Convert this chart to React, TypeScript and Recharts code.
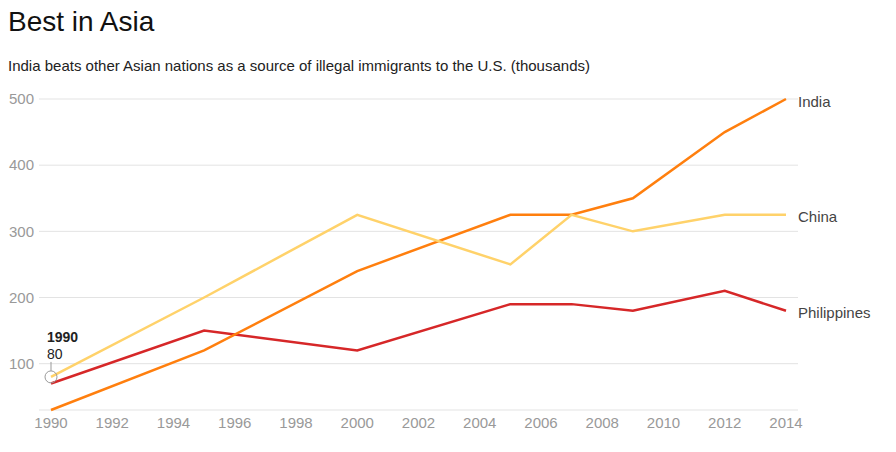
import { LineChart, Line, XAxis, YAxis, CartesianGrid } from 'recharts';

const years = [1990, 1995, 2000, 2005, 2007, 2009, 2012, 2014];
const india = [30, 120, 240, 325, 325, 350, 450, 500];
const china = [80, 200, 325, 250, 325, 300, 325, 325];
const philippines = [70, 150, 120, 190, 190, 180, 210, 180];
const xTicks = [1990, 1992, 1994, 1996, 1998, 2000, 2002, 2004, 2006, 2008, 2010, 2012, 2014];
const yTicks = [100, 200, 300, 400, 500];

const data = years.map((year, i) => ({
  year,
  India: india[i],
  China: china[i],
  Philippines: philippines[i],
}));

const FONT = '"Liberation Sans", Arial, sans-serif';

// label at the end of each line
const endLabel = (name: string) => (props: any) => {
  const { x, y, index } = props;
  if (index !== years.length - 1) return null;
  return (
    <text x={x + 12} y={y + 2} fill="#444" fontSize={15} fontFamily={FONT} dominantBaseline="central">
      {name}
    </text>
  );
};

// hover marker on the first China point
const firstDot = (props: any) => {
  const { cx, cy, index } = props;
  if (index !== 0) return <g key={index} />;
  return (
    <g key={index}>
      <line x1={cx} x2={cx} y1={cy - 6} y2={cy - 15} stroke="#999" strokeWidth={1} />
      <circle cx={cx} cy={cy} r={6} fill="none" stroke="#999" strokeWidth={1} />
      <text x={cx - 4} y={cy - 35} fontSize={14} fontWeight="bold" fill="#222" fontFamily={FONT}>
        {years[0]}
      </text>
      <text x={cx - 4} y={cy - 18} fontSize={14} fill="#222" fontFamily={FONT}>
        {china[0]}
      </text>
    </g>
  );
};

export default function App() {
  return (
    <div style={{ position: 'fixed', top: 0, left: 0, width: 896, height: 452, background: '#fff', fontFamily: FONT }}>
      <div style={{ position: 'absolute', left: 8, top: 6, fontSize: 28, color: '#111' }}>Best in Asia</div>
      <div style={{ position: 'absolute', left: 8, top: 57, fontSize: 15, color: '#222' }}>
        India beats other Asian nations as a source of illegal immigrants to the U.S. (thousands)
      </div>
      <div style={{ position: 'absolute', left: 0, top: 0 }}>
        <LineChart width={896} height={452} data={data} margin={{ top: 99, right: 98, bottom: 12, left: 0 }}>
          <CartesianGrid vertical={false} stroke="#e3e3e3" />
          <XAxis
            dataKey="year"
            type="number"
            domain={[1990, 2014]}
            ticks={xTicks}
            padding={{ left: 12, right: 12 }}
            axisLine={false}
            tickLine={false}
            tickSize={0}
            tickMargin={7}
            height={30}
            tick={{ fill: '#999', fontSize: 15, fontFamily: FONT }}
          />
          <YAxis
            domain={[30, 500]}
            ticks={yTicks}
            axisLine={false}
            tickLine={false}
            tickSize={0}
            tickMargin={5}
            width={39}
            tick={{ fill: '#999', fontSize: 15, fontFamily: FONT }}
          />
          <Line dataKey="Philippines" stroke="#d62728" strokeWidth={2.5} dot={false} isAnimationActive={false} label={endLabel('Philippines')} />
          <Line dataKey="India" stroke="#ff7f0e" strokeWidth={2.5} dot={false} isAnimationActive={false} label={endLabel('India')} />
          <Line dataKey="China" stroke="#ffd26a" strokeWidth={2.5} dot={firstDot} isAnimationActive={false} label={endLabel('China')} />
        </LineChart>
      </div>
    </div>
  );
}
